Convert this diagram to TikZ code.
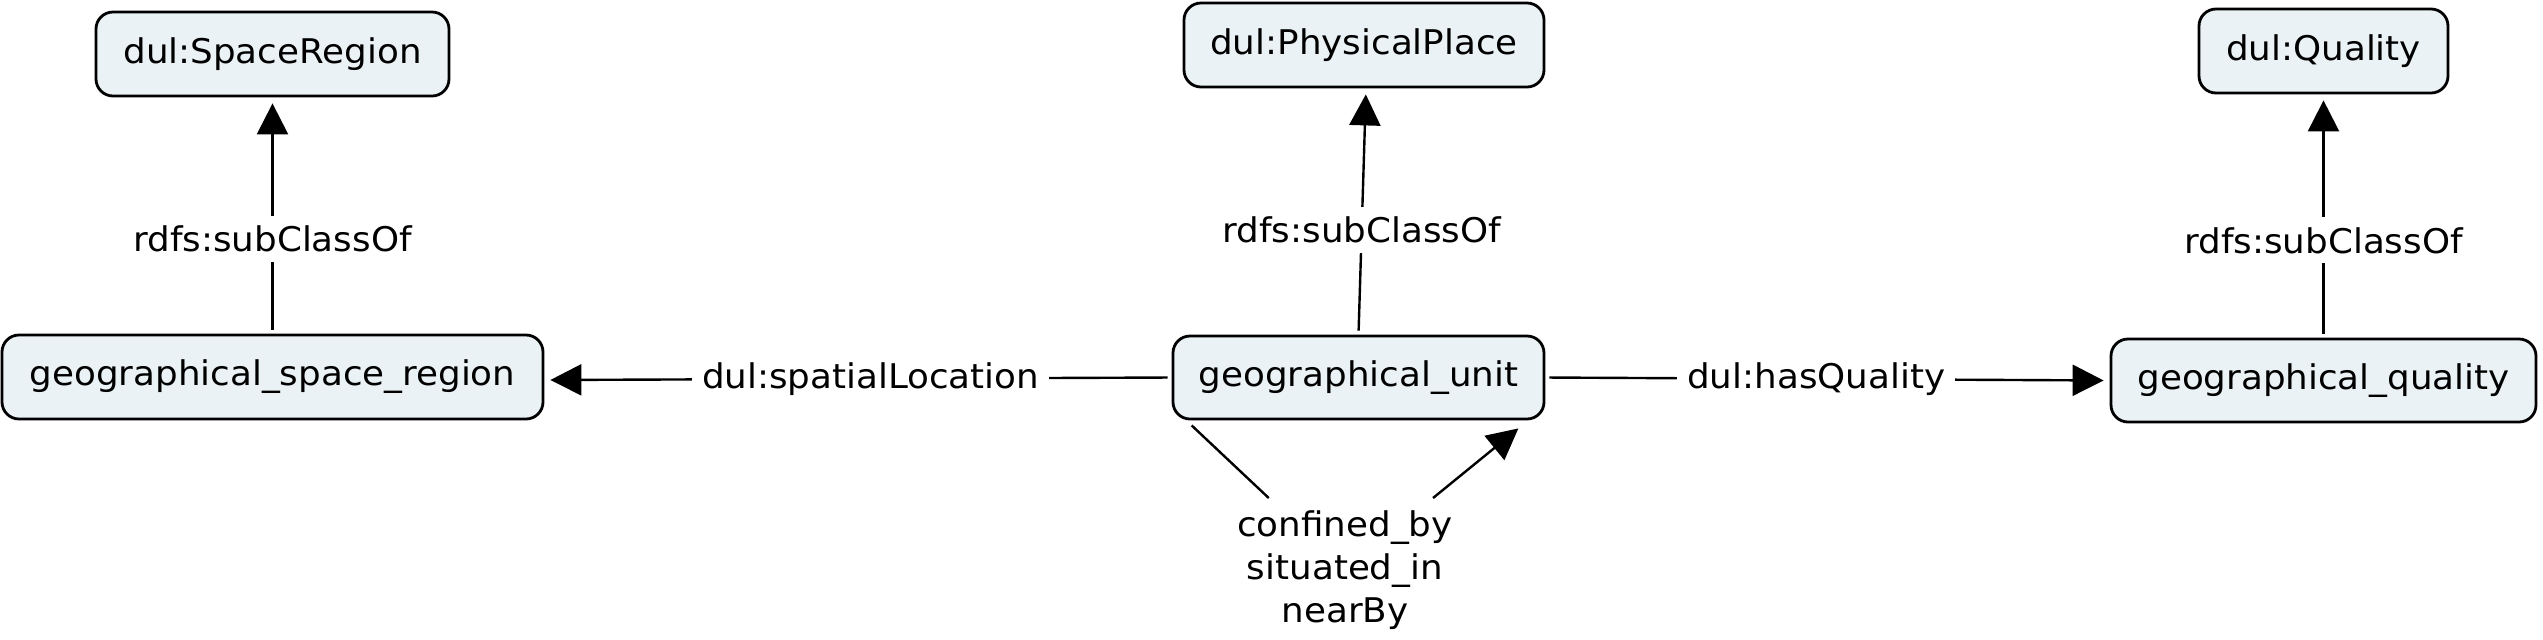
\documentclass[tikz,border=0pt]{standalone}
\usepackage{fontspec}
\setmainfont{DejaVu Sans}[FakeStretch=1.05]
\usetikzlibrary{arrows.meta}
\definecolor{boxfill}{HTML}{EAF2F5}
\begin{document}
\begin{tikzpicture}[x=0.5pt,y=-0.5pt,
  every node/.style={font=\fontsize{17pt}{21.5pt}\selectfont},
  cls/.style={draw=black, line width=1.4pt, fill=boxfill, rounded corners=8.5pt, inner sep=0pt},
  rel/.style={line width=1.2pt, shorten <=2pt, shorten >=3pt},
  arr/.style={rel, -{Triangle[length=15.5pt,width=15.5pt]}},
  lab/.style={fill=white, inner sep=5pt}
]
\useasboundingbox (0,0) rectangle (2543,639);
\fill[white] (0,0) rectangle (2543,639);

\node[cls, minimum width=176.5pt, minimum height=42pt] (SR) at (272.5,54) {dul:SpaceRegion};
\node[cls, minimum width=270.5pt, minimum height=42pt] (GSR) at (272.5,377) {geographical\_space\_region};
\node[cls, minimum width=180pt, minimum height=42pt] (PP) at (1364,45) {dul:PhysicalPlace};
\node[cls, minimum width=185.5pt, minimum height=41.5pt] (GU) at (1358.5,377.5) {geographical\_unit};
\node[cls, minimum width=124.5pt, minimum height=42pt] (Q) at (2323.5,51) {dul:Quality};
\node[cls, minimum width=212.5pt, minimum height=41.5pt] (GQ) at (2323.5,380.5) {geographical\_quality};

\node[align=center, inner xsep=2pt, inner ysep=6pt, anchor=north] (lbl) at (1345,498) {confined\_by\\situated\_in\\nearBy};

\draw[arr] (GSR.north) -- node[lab, pos=0.4] {rdfs:subClassOf} (SR.south);
\draw[arr] (GU.north) -- node[lab, pos=0.426] {rdfs:subClassOf} ([xshift=1pt]PP.south);
\draw[arr] (GQ.north) -- node[lab, pos=0.4] {rdfs:subClassOf} (Q.south);

\draw[arr] (GU.west) -- node[lab, pos=0.48] {dul:spatialLocation} ([yshift=-1.5pt]GSR.east);
\draw[arr] (GU.east) -- node[lab, pos=0.48] {dul:hasQuality} (GQ.west);

\draw[line width=1.2pt] ([xshift=10pt,yshift=-2.5pt]GU.south west) -- (lbl);
\draw[line width=1.2pt, -{Triangle[length=15.5pt,width=15.5pt]}] (lbl) -- ([xshift=-13.5pt,yshift=-4pt]GU.south east);
\end{tikzpicture}
\end{document}
